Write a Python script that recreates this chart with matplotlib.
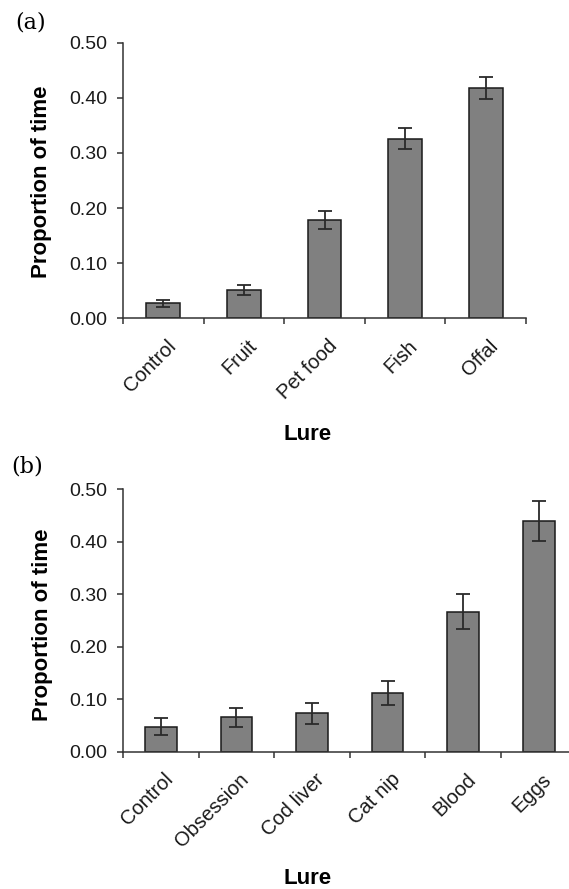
import matplotlib
matplotlib.use("Agg")
import matplotlib.pyplot as plt
import matplotlib.transforms as mtransforms
import numpy as np

plt.rcParams['font.family'] = ['Liberation Sans', 'DejaVu Sans']

# Panel (a)
cats_a = ["Control", "Fruit", "Pet food", "Fish", "Offal"]
vals_a = [0.027, 0.052, 0.178, 0.326, 0.418]
errs_a = [0.007, 0.009, 0.016, 0.019, 0.020]

# Panel (b)
cats_b = ["Control", "Obsession", "Cod liver", "Cat nip", "Blood", "Eggs"]
vals_b = [0.048, 0.066, 0.073, 0.112, 0.267, 0.440]
errs_b = [0.017, 0.018, 0.020, 0.023, 0.034, 0.038]

yticks = [0.0, 0.1, 0.2, 0.3, 0.4, 0.5]
ytick_labels = ["0.00", "0.10", "0.20", "0.30", "0.40", "0.50"]

W, H = 569, 889
fig = plt.figure(figsize=(W / 100, H / 100), dpi=100)

def px_axes(left, right, top, bottom):
    return fig.add_axes([left / W, 1 - bottom / H, (right - left) / W, (bottom - top) / H])

ax_a = px_axes(123, 526, 42.7, 318.3)
ax_b = px_axes(123, 123 + 6 * 75.6, 489.3, 751.7)

spine_col = "#333333"
for ax, cats, vals, errs in [(ax_a, cats_a, vals_a, errs_a), (ax_b, cats_b, vals_b, errs_b)]:
    n = len(cats)
    x = np.arange(n)
    ax.bar(x, vals, width=0.42, color="#808080", edgecolor="#1a1a1a", linewidth=1.1, zorder=2)
    ax.errorbar(x, vals, yerr=errs, fmt="none", ecolor="#2a2a2a", elinewidth=1.3,
                capsize=4.8, capthick=1.3, zorder=3)
    ax.set_xlim(-0.5, n - 0.5)
    ax.set_ylim(0, 0.5)
    ax.set_yticks(yticks)
    ax.set_yticklabels(ytick_labels, fontsize=14, color="#1a1a1a")
    ax.set_xticks(x)
    ax.set_xticks(np.arange(n + 1) - 0.5, minor=True)
    ax.tick_params(axis="x", which="major", length=0, pad=0)
    ax.tick_params(axis="x", which="minor", length=4.5, width=1.1, color=spine_col, direction="out")
    ax.tick_params(axis="y", length=4.5, width=1.1, color=spine_col, direction="out", pad=6.5)
    ax.set_xticklabels(cats, rotation=45, ha="right", va="top", rotation_mode="anchor",
                       fontsize=14.5, color="#1a1a1a")
    offset = mtransforms.ScaledTranslation(3 / 100, -18 / 100, fig.dpi_scale_trans)
    for lab in ax.get_xticklabels():
        lab.set_transform(lab.get_transform() + offset)
    for s in ["top", "right"]:
        ax.spines[s].set_visible(False)
    for s in ["left", "bottom"]:
        ax.spines[s].set_color(spine_col)
        ax.spines[s].set_linewidth(1.1)
    ax.set_clip_on(False)

fig.text(42 / W, 1 - 181.5 / H, "Proportion of time", rotation=90, ha="center", va="center",
         fontsize=16, fontweight="bold")
fig.text(43 / W, 1 - 625 / H, "Proportion of time", rotation=90, ha="center", va="center",
         fontsize=16, fontweight="bold")

fig.text(308 / W, 1 - 435 / H, "Lure", ha="center", va="center", fontsize=16, fontweight="bold")
fig.text(308 / W, 1 - 878 / H, "Lure", ha="center", va="center", fontsize=16, fontweight="bold")

fig.text(31 / W, 1 - 22 / H, "(a)", ha="center", va="center", fontsize=16,
         family=["DejaVu Serif"])
fig.text(27 / W, 1 - 467 / H, "(b)", ha="center", va="center", fontsize=16,
         family=["DejaVu Serif"])

fig.savefig("out.png", dpi=100)
